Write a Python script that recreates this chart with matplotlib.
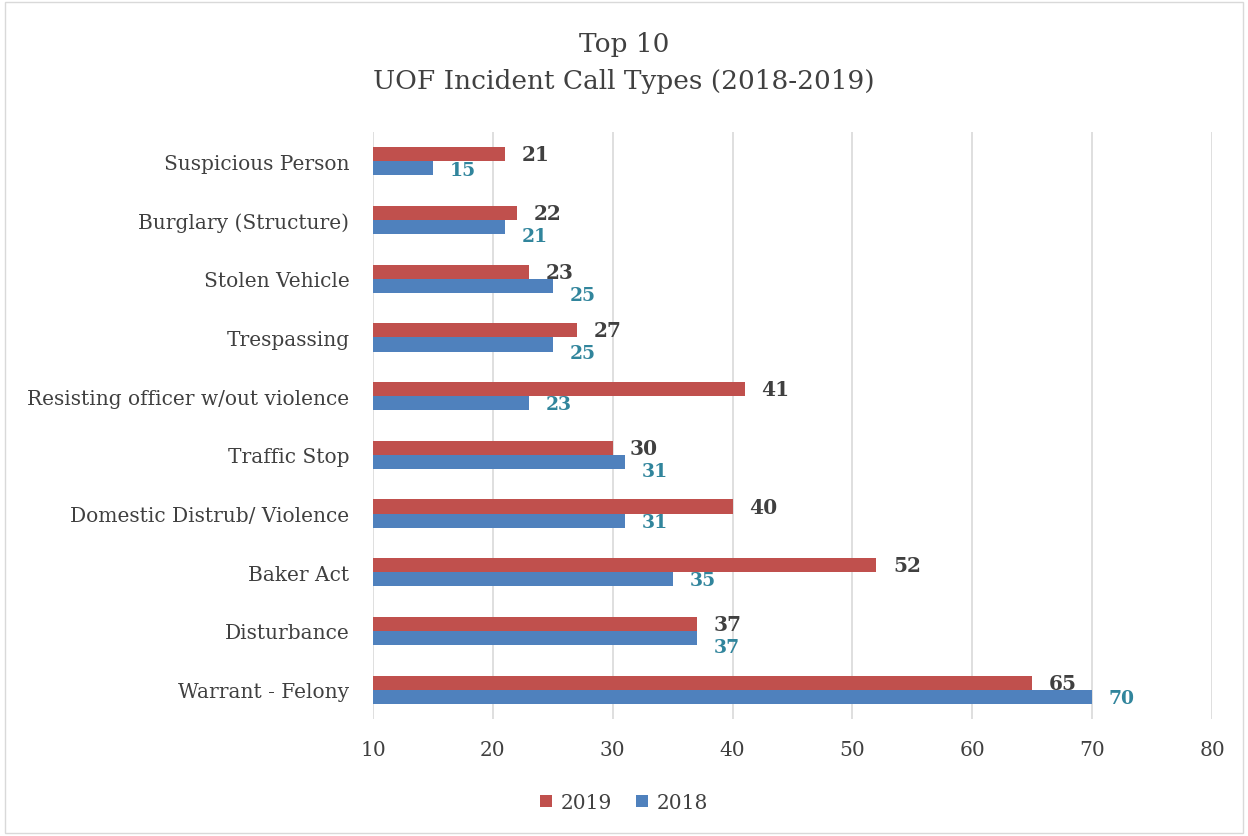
import matplotlib.pyplot as plt
import numpy as np
from matplotlib.patches import Rectangle

plt.rcParams['font.family'] = ['DejaVu Serif']

categories = ['Suspicious Person', 'Burglary (Structure)', 'Stolen Vehicle',
              'Trespassing', 'Resisting officer w/out violence', 'Traffic Stop',
              'Domestic Distrub/ Violence', 'Baker Act', 'Disturbance',
              'Warrant - Felony']
values_2019 = [21, 22, 23, 27, 41, 30, 40, 52, 37, 65]
values_2018 = [15, 21, 25, 25, 23, 31, 31, 35, 37, 70]
xticks = [10, 20, 30, 40, 50, 60, 70, 80]

red = '#C0504D'
blue = '#4F81BD'

fig = plt.figure(figsize=(12.48, 8.37), dpi=100)
# plot area in pixels: x 373..1212, y 133..720
ax = fig.add_axes([373 / 1248, 1 - 720 / 837, (1212 - 373) / 1248, (720 - 133) / 837])

y = np.arange(len(categories))
h = 0.24
base = 10
ax.barh(y - h / 2, np.array(values_2019) - base, left=base, height=h, color=red, label='2019', zorder=3)
ax.barh(y + h / 2, np.array(values_2018) - base, left=base, height=h, color=blue, label='2018', zorder=3)

for yi, v in zip(y, values_2019):
    ax.text(v + 1.4, yi - h / 2, str(v), ha='left', va='center', fontsize=14.5,
            fontweight='bold', color='#404040')
for yi, v, v19 in zip(y, values_2018, values_2019):
    # push the 2018 label down when it would collide with the 2019 one
    dy = 0.15 if abs(v - v19) <= 3 else 0.02
    ax.text(v + 1.4, yi + h / 2 + dy, str(v), ha='left', va='center', fontsize=13.5,
            fontweight='bold', color='#31859C')

ax.set_xlim(10, 80)
ax.set_ylim(len(categories) - 0.5, -0.5)
ax.set_xticks(xticks)
ax.set_yticks(y)
ax.set_yticklabels(categories)
ax.tick_params(axis='both', length=0, labelsize=14.5, labelcolor='#404040')
ax.tick_params(axis='x', pad=15)
ax.tick_params(axis='y', pad=17)
ax.grid(axis='x', color='#D9D9D9', linewidth=1.2, zorder=0)
for s in ax.spines.values():
    s.set_visible(False)

fig.suptitle('Top 10\nUOF Incident Call Types (2018-2019)', y=0.962, fontsize=19,
             color='#404040', linespacing=1.6)

fig.legend(loc='lower center', bbox_to_anchor=(0.5, 0.007), ncol=2, frameon=False,
           fontsize=14.5, handlelength=0.6, handleheight=0.6, handletextpad=0.4,
           columnspacing=1.2, labelcolor='#404040')

fig.add_artist(Rectangle((0.004, 0.004), 0.992, 0.992, transform=fig.transFigure,
                         fill=False, edgecolor='#D9D9D9', linewidth=1))

fig.savefig('out.png', dpi=100)
